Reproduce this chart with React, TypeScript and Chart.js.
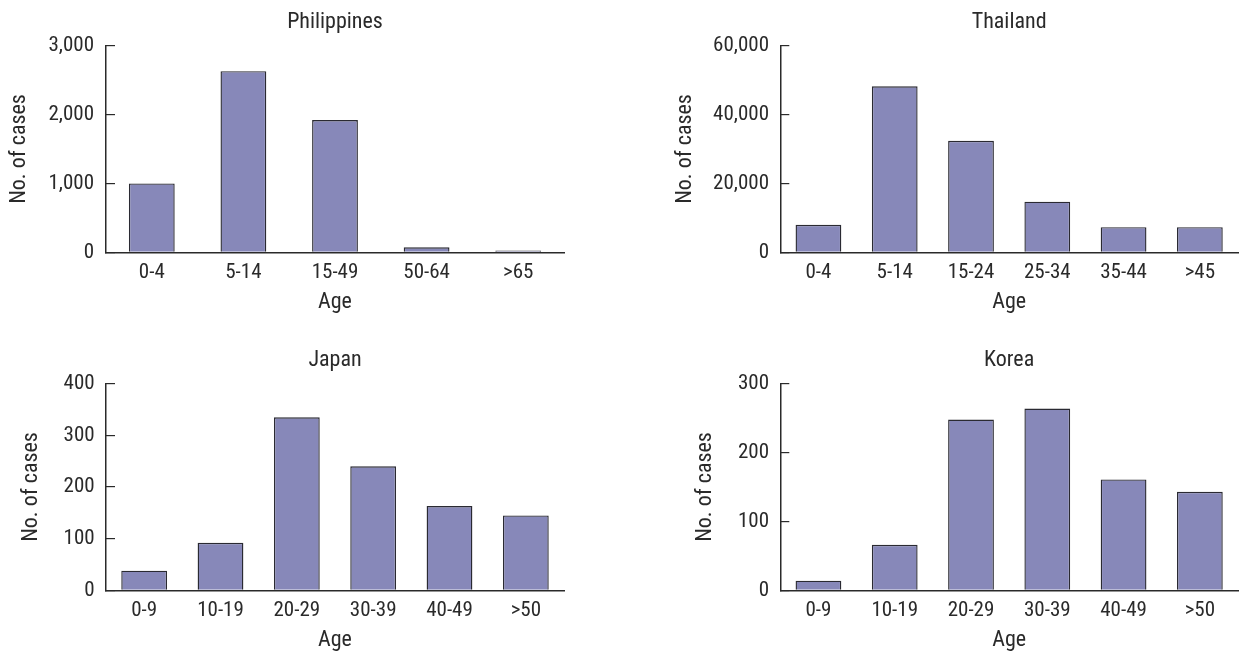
import React, { useEffect, useRef } from 'react';
import { Chart, registerables } from 'chart.js';

Chart.register(...registerables);

// ---- data ----
const philippinesAges = ['0-4', '5-14', '15-49', '50-64', '>65'];
const philippinesCases = [1000, 2630, 1920, 73, 25];
const philippinesTicks = [0, 1000, 2000, 3000];

const thailandAges = ['0-4', '5-14', '15-24', '25-34', '35-44', '>45'];
const thailandCases = [8000, 48200, 32400, 14700, 7300, 7300];
const thailandTicks = [0, 20000, 40000, 60000];

const japanAges = ['0-9', '10-19', '20-29', '30-39', '40-49', '>50'];
const japanCases = [38, 92, 335, 240, 163, 145];
const japanTicks = [0, 100, 200, 300, 400];

const koreaAges = ['0-9', '10-19', '20-29', '30-39', '40-49', '>50'];
const koreaCases = [14, 66, 248, 264, 161, 143];
const koreaTicks = [0, 100, 200, 300];

const FONT = "'Roboto Condensed', 'Liberation Sans Narrow', 'Arial Narrow', 'DejaVu Sans Condensed', sans-serif";
const TEXT = '#2a2a2a';
const BAR_FILL = '#8788b9';
const BAR_EDGE = '#2a2a32';
const AXIS = '#2a2a2a';

type PanelProps = {
  title: string;
  labels: string[];
  values: number[];
  ticks: number[];
  left: number;
  top: number;
  width: number;
  height: number;
  yWidth: number;
  xHeight: number;
  rightPad: number;
  yTitlePad: number;
  yTickPad: number;
  barPct: number;
};

function Panel(p: PanelProps) {
  const ref = useRef<HTMLCanvasElement | null>(null);
  useEffect(() => {
    if (!ref.current) return;
    const chart = new Chart(ref.current, {
      type: 'bar',
      data: {
        labels: p.labels,
        datasets: [
          {
            data: p.values,
            backgroundColor: BAR_FILL,
            borderColor: BAR_EDGE,
            borderWidth: 1.4,
            borderSkipped: 'start',
            barPercentage: p.barPct,
            categoryPercentage: 1,
          },
        ],
      },
      options: {
        responsive: false,
        maintainAspectRatio: false,
        animation: false,
        devicePixelRatio: 1,
        layout: { padding: { left: 0, right: p.rightPad, top: 0, bottom: 0 } },
        plugins: {
          legend: { display: false },
          tooltip: { enabled: false },
          title: {
            display: true,
            text: p.title,
            fullSize: false,
            color: TEXT,
            font: { family: FONT, size: 22, weight: 'normal' },
            padding: { top: 9.4, bottom: 9.9 },
          },
        },
        scales: {
          x: {
            type: 'category',
            offset: true,
            grid: { display: false, drawTicks: false },
            border: { display: true, color: AXIS, width: 1.5 },
            ticks: {
              color: TEXT,
              font: { family: FONT, size: 21 },
              padding: 7.4,
              maxRotation: 0,
              autoSkip: false,
            },
            title: {
              display: true,
              text: 'Age',
              color: TEXT,
              font: { family: FONT, size: 22 },
              padding: { top: 0, bottom: p.xHeight - 63.2 },
            },
            afterFit: (s: any) => {
              s.height = p.xHeight;
            },
          },
          y: {
            min: p.ticks[0],
            max: p.ticks[p.ticks.length - 1],
            afterBuildTicks: (s: any) => {
              s.ticks = p.ticks.map((v) => ({ value: v }));
            },
            grid: {
              display: true,
              drawOnChartArea: false,
              drawTicks: true,
              tickLength: -9,
              color: AXIS,
              tickColor: AXIS,
              lineWidth: 1.2,
              tickWidth: 1.2,
            },
            border: { display: true, color: AXIS, width: 1.5 },
            ticks: {
              color: TEXT,
              font: { family: FONT, size: 21 },
              padding: p.yTickPad,
              callback: (v: any) => Number(v).toLocaleString('en-US'),
            },
            title: {
              display: true,
              text: 'No. of cases',
              color: TEXT,
              font: { family: FONT, size: 22 },
              padding: { top: p.yTitlePad, bottom: 0 },
            },
            afterFit: (s: any) => {
              s.width = p.yWidth;
            },
          },
        },
      },
    });
    return () => chart.destroy();
  }, []);
  return (
    <canvas
      ref={ref}
      width={p.width}
      height={p.height}
      style={{ position: 'absolute', left: p.left, top: p.top, width: p.width, height: p.height }}
    />
  );
}

export default function App() {
  return (
    <div
      style={{
        position: 'absolute',
        left: 0,
        top: 0,
        width: 1240,
        height: 653,
        overflow: 'hidden',
        background: '#ffffff',
      }}
    >
      <Panel
        title="Philippines"
        labels={philippinesAges}
        values={philippinesCases}
        ticks={philippinesTicks}
        left={0}
        top={0}
        width={580}
        height={320}
        yWidth={106}
        xHeight={67.7}
        rightPad={16}
        yTitlePad={5.8}
        yTickPad={21}
        barPct={0.5}
      />
      <Panel
        title="Thailand"
        labels={thailandAges}
        values={thailandCases}
        ticks={thailandTicks}
        left={620}
        top={0}
        width={620}
        height={320}
        yWidth={160.3}
        xHeight={67.7}
        rightPad={2}
        yTitlePad={52.5}
        yTickPad={20.3}
        barPct={0.6}
      />
      <Panel
        title="Japan"
        labels={japanAges}
        values={japanCases}
        ticks={japanTicks}
        left={0}
        top={337.6}
        width={580}
        height={320}
        yWidth={106}
        xHeight={67.7}
        rightPad={16}
        yTitlePad={18.5}
        yTickPad={20.3}
        barPct={0.6}
      />
      <Panel
        title="Korea"
        labels={koreaAges}
        values={koreaCases}
        ticks={koreaTicks}
        left={620}
        top={337.6}
        width={620}
        height={320}
        yWidth={160.3}
        xHeight={67.7}
        rightPad={2}
        yTitlePad={71.8}
        yTickPad={20.3}
        barPct={0.6}
      />
    </div>
  );
}
